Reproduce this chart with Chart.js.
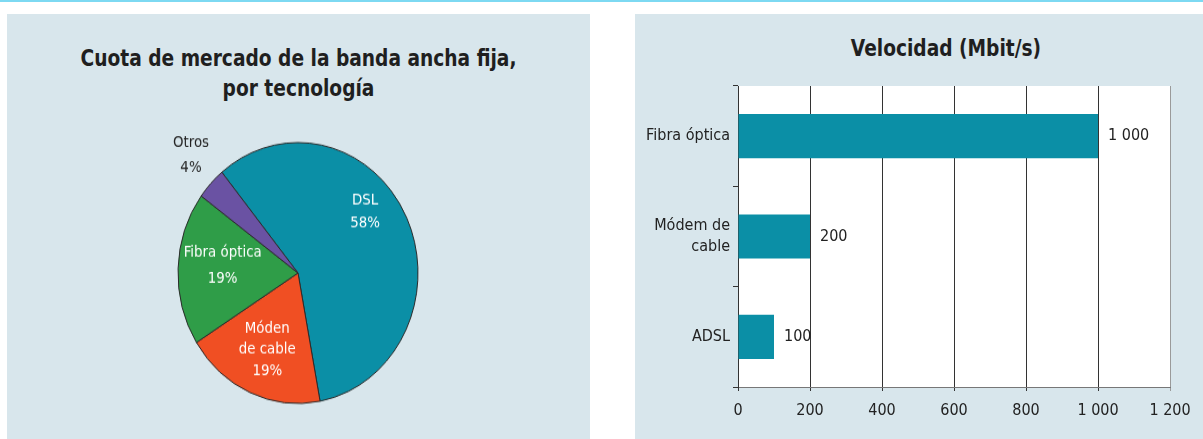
<!DOCTYPE html>
<html>
<head>
<meta charset="utf-8">
<script src="https://cdn.jsdelivr.net/npm/chart.js@4.4.1/dist/chart.umd.min.js"></script>
<style>
  html, body { margin: 0; padding: 0; background: #fff; }
  body { width: 1203px; height: 439px; position: relative; overflow: hidden;
         font-family: "Liberation Sans Narrow", "DejaVu Sans Condensed", sans-serif; }
  .topline { position: absolute; left: 0; top: 0; width: 1203px; height: 2px; background: #7dd9f2; }
  .panel { position: absolute; top: 14px; height: 425px; background: #d8e6ec; }
  .title { position: absolute; text-align: center; font-weight: bold; font-size: 23px;
           color: #1f1f1f; line-height: 30px; transform: scaleX(0.9); transform-origin: 50% 50%; }
  #pieBox { position: absolute; left: 148px; top: 133px; width: 300px; height: 280px;
            transform: scaleY(1.087); transform-origin: 50% 50%; }
  #barBox { position: absolute; left: 635px; top: 14px; width: 568px; height: 425px; }
</style>
</head>
<body>
<div class="topline"></div>
<div class="panel" style="left:7px;width:583px"></div>
<div class="panel" style="left:635px;width:568px"></div>
<div class="title" style="left:7px;width:583px;top:43px">Cuota de mercado de la banda ancha fija,<br>por tecnología</div>
<div class="title" style="left:760px;width:372px;top:33px">Velocidad (Mbit/s)</div>
<div id="pieBox"><canvas id="pieChart"></canvas></div>
<div id="barBox"><canvas id="barChart"></canvas></div>
<script>
const FONT = '"Liberation Sans Narrow", "DejaVu Sans Condensed", sans-serif';

// cuota de mercado (%)
const shareNames = [['DSL'], ['Móden', 'de cable'], ['Fibra óptica'], ['Otros']];
const shareValues = [58, 19, 19, 4];
const shareColors = ['#0b8fa6', '#f04f23', '#2f9d48', '#6a52a3'];

// velocidad (Mbit/s)
const speedLabels = [['Fibra óptica'], ['Módem de', 'cable'], ['ADSL']];
const speedValues = [1000, 200, 100];
const speedTicks = [0, 200, 400, 600, 800, 1000, 1200];

const STRETCH = 1.087;
// posicion de etiquetas: fraccion del radio, desplazamiento angular (grados), interlineado
const labelPlace = [[0.73, -15, 22], [0.64, 0, 21], [0.63, 3, 26], [1.27, 2, 25]];
const labelColor = ['#fff', '#fff', '#fff', '#222'];

function fmt(n) {
  return String(n).replace(/\B(?=(\d{3})+(?!\d))/g, ' ');
}

const pieLabels = {
  id: 'pieLabels',
  afterDatasetsDraw(chart) {
    const ctx = chart.ctx;
    const meta = chart.getDatasetMeta(0);
    meta.data.forEach((arc, i) => {
      const mid = (arc.startAngle + arc.endAngle) / 2 + labelPlace[i][1] * Math.PI / 180;
      const r = arc.outerRadius * labelPlace[i][0];
      const px = arc.x + Math.cos(mid) * r;
      const py = arc.y + Math.sin(mid) * r;
      const lines = shareNames[i].concat([shareValues[i] + '%']);
      const lh = labelPlace[i][2];
      ctx.save();
      ctx.translate(px, py);
      ctx.scale(0.93, 1 / STRETCH);
      ctx.font = '16px ' + FONT;
      ctx.fillStyle = labelColor[i];
      ctx.textAlign = 'center';
      ctx.textBaseline = 'middle';
      lines.forEach((t, k) => {
        ctx.fillText(t, 0, (k - (lines.length - 1) / 2) * lh);
      });
      ctx.restore();
    });
  }
};

new Chart(document.getElementById('pieChart'), {
  type: 'pie',
  data: {
    labels: shareNames.map(n => n.join(' ')),
    datasets: [{
      data: shareValues,
      backgroundColor: shareColors,
      borderColor: '#2a2a2a',
      borderWidth: 1,
      radius: 120,
      rotation: -39.4
    }]
  },
  options: {
    responsive: true,
    maintainAspectRatio: false,
    animation: false,
    plugins: { legend: { display: false }, tooltip: { enabled: false } }
  },
  plugins: [pieLabels]
});

const plotBg = {
  id: 'plotBg',
  beforeDraw(chart) {
    const a = chart.chartArea;
    chart.ctx.save();
    chart.ctx.fillStyle = '#fff';
    chart.ctx.fillRect(a.left, a.top, a.right - a.left, a.bottom - a.top);
    chart.ctx.restore();
  }
};

const barValues = {
  id: 'barValues',
  afterDatasetsDraw(chart) {
    const ctx = chart.ctx;
    const meta = chart.getDatasetMeta(0);
    ctx.save();
    ctx.font = '16px ' + FONT;
    ctx.fillStyle = '#222';
    ctx.textAlign = 'left';
    ctx.textBaseline = 'middle';
    meta.data.forEach((bar, i) => {
      ctx.fillText(fmt(speedValues[i]), bar.x + 10, bar.y);
    });
    ctx.restore();
  }
};

new Chart(document.getElementById('barChart'), {
  type: 'bar',
  data: {
    labels: speedLabels,
    datasets: [{
      data: speedValues,
      backgroundColor: '#0b8fa6',
      barPercentage: 0.44,
      categoryPercentage: 1
    }]
  },
  options: {
    indexAxis: 'y',
    responsive: true,
    maintainAspectRatio: false,
    animation: false,
    layout: { padding: { top: 72, right: 33, bottom: 14, left: 0 } },
    plugins: { legend: { display: false }, tooltip: { enabled: false } },
    scales: {
      x: {
        min: 0,
        max: 1200,
        afterBuildTicks: axis => { axis.ticks = speedTicks.map(v => ({ value: v })); },
        afterFit: axis => { axis.height = 38; },
        grid: {
          color: ctx => (ctx.tick && ctx.tick.value === 1200) ? '#9a9a9a' : '#333',
          lineWidth: 1,
          tickLength: 4
        },
        border: { color: '#777', width: 1 },
        ticks: {
          color: '#222',
          padding: 10,
          font: { family: FONT, size: 16 },
          callback: v => fmt(v)
        }
      },
      y: {
        afterFit: axis => { axis.width = 103; },
        grid: { drawOnChartArea: false, tickLength: 5, color: '#333', offset: true },
        border: { color: '#333', width: 1 },
        ticks: {
          color: '#222',
          padding: 3,
          font: { family: FONT, size: 16, lineHeight: 1.3 }
        }
      }
    }
  },
  plugins: [plotBg, barValues]
});
</script>
</body>
</html>
